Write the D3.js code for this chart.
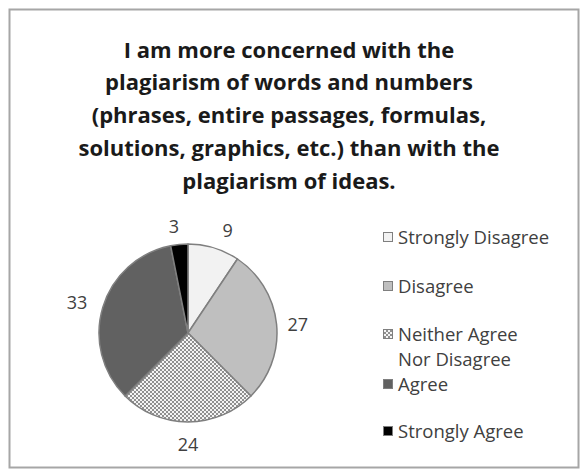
<!DOCTYPE html>
<html><head><meta charset="utf-8">
<script src="https://cdn.jsdelivr.net/npm/d3@7"></script>
<style>body{margin:0;background:#fff;} svg{display:block;}</style>
</head><body>
<script>
const titleLines = ["I am more concerned with the","plagiarism of words and numbers","(phrases, entire passages, formulas,","solutions, graphics, etc.) than with the","plagiarism of ideas."];
const categories = ["Strongly Disagree","Disagree","Neither Agree Nor Disagree","Agree","Strongly Agree"];
const values = [9,27,24,33,3];
const fills = ["#f2f2f2","#bfbfbf","url(#checker)","#616161","#000000"];

const W=581,H=469;
const svg=d3.select("body").append("svg").attr("width",W).attr("height",H);
const defs=svg.append("defs");
const pat=defs.append("pattern").attr("id","checker").attr("width",4).attr("height",4).attr("patternUnits","userSpaceOnUse");
pat.append("rect").attr("width",4).attr("height",4).attr("fill","#f4f4f4");
pat.append("rect").attr("width",2).attr("height",2).attr("fill","#909090");
pat.append("rect").attr("x",2).attr("y",2).attr("width",2).attr("height",2).attr("fill","#909090");

svg.append("rect").attr("x",9.5).attr("y",9.5).attr("width",569).attr("height",458).attr("fill","#fff").attr("stroke","#a6a6a6").attr("stroke-width",2);

const font="'Open Sans', sans-serif";
svg.append("g").selectAll("text").data(titleLines).join("text")
 .attr("x",289).attr("y",(d,i)=>50+i*32.75).attr("dy","0.35em")
 .attr("text-anchor","middle").attr("font-family",font).attr("font-weight","bold")
 .attr("font-size",22).attr("fill","#1a1a1a").text(d=>d);

const cx=188,cy=333,r=89;
const pie=d3.pie().sort(null).value(d=>d);
const arcs=pie(values);
const arc=d3.arc().innerRadius(0).outerRadius(r);
const g=svg.append("g").attr("transform",`translate(${cx},${cy})`);
g.selectAll("path").data(arcs).join("path").attr("d",arc)
 .attr("fill",(d,i)=>fills[i]).attr("stroke","#7f7f7f").attr("stroke-width",1.5).attr("stroke-linejoin","round");

// label placement (layout constants): radius and angular nudge in degrees
const labelR=[110,110,112,115,107];
const labelNudge=[4.3,1.4,0,-1.8,-1.9];
g.selectAll("text").data(arcs).join("text")
 .attr("transform",(d,i)=>{const a=(d.startAngle+d.endAngle)/2+labelNudge[i]*Math.PI/180; return `translate(${Math.sin(a)*labelR[i]},${-Math.cos(a)*labelR[i]})`;})
 .attr("text-anchor","middle").attr("dy","0.35em")
 .attr("font-family",font).attr("font-size",18).attr("fill","#404040")
 .text(d=>d.data);

const legendY=[238,287,335,385,432];
const lg=svg.append("g");
categories.forEach((c,i)=>{
  const y=legendY[i];
  lg.append("rect").attr("x",383.5).attr("y",y-5.5).attr("width",9).attr("height",9)
    .attr("fill",fills[i]).attr("stroke","#7f7f7f").attr("stroke-width",1);
  const t=lg.append("text").attr("x",398).attr("y",y).attr("dy","0.35em")
    .attr("font-family",font).attr("font-size",18.5).attr("fill","#404040");
  const words=c.split(" ");
  let lines=[],cur="";
  const tmp=t.append("tspan");
  words.forEach(w=>{
    const test=cur?cur+" "+w:w;
    tmp.text(test);
    if(tmp.node().getComputedTextLength()>156 && cur){lines.push(cur);cur=w;} else cur=test;
  });
  lines.push(cur); tmp.remove();
  if(lines.length===1){ t.text(lines[0]); }
  else {
    lines.forEach((l,j)=>t.append("tspan").attr("x",398).attr("dy",j===0?"0.35em":"25px").text(l));
  }
});
</script>
</body></html>
